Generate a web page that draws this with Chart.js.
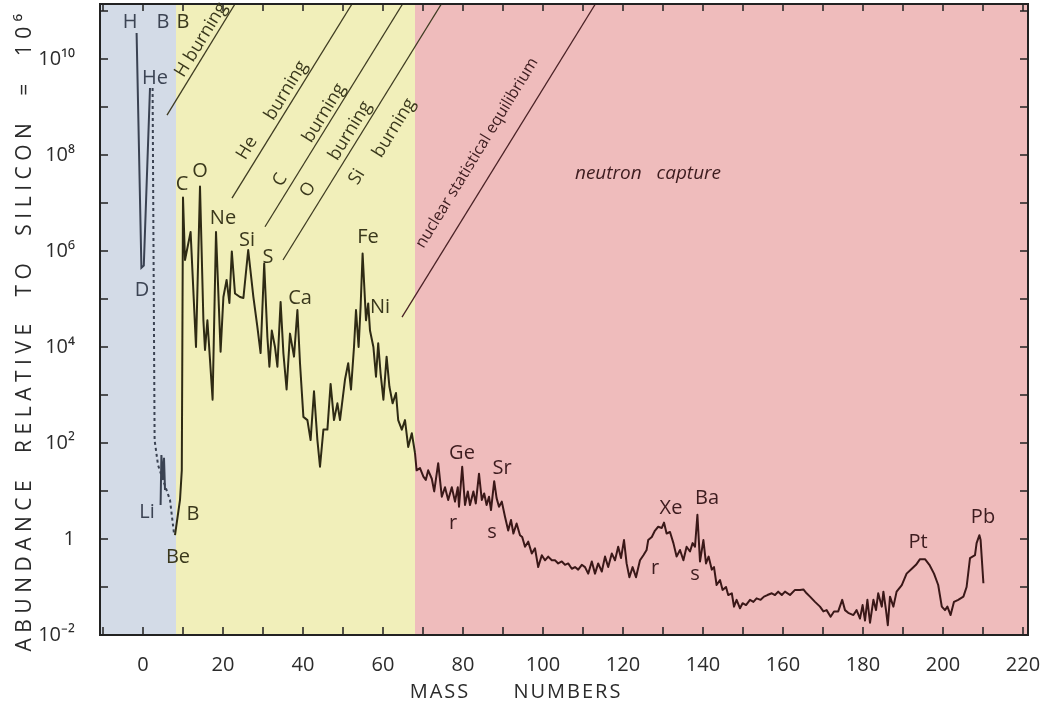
<!DOCTYPE html>
<html>
<head>
<meta charset="utf-8">
<script src="https://cdn.jsdelivr.net/npm/chart.js@4.4.0/dist/chart.umd.min.js"></script>
<style>
  html, body { margin: 0; padding: 0; background: #fff; }
  #wrap { width: 1055px; height: 711px; }
</style>
</head>
<body>
<div id="wrap"><canvas id="chart" width="1055" height="711"></canvas></div>
<script>
// Solar system abundances vs mass number (log scale, Si = 10^6)

const FONT = "'Open Sans', sans-serif";

// H -> D -> He (solid V in the blue band)
const hMass = [-1.6, -0.4, 0.2, 1.75];
const hAbund = [3.5e10, 4.5e5, 5.0e5, 2.5e9];

// dotted bridge from He down to Be
const gapMass = [2.4, 2.9, 3.75, 5, 6.75, 7.75];
const gapAbund = [2.5e9, 115, 35, 17, 6.5, 1.3];

// Li (short solid zigzag)
const liMass = [4.4, 4.6, 4.9, 5.25, 5.5];
const liAbund = [5.1, 56, 17, 49, 10.5];

// main curve, Be/B up to Pb
const mainMass = [
  8.0, 9.25, 9.7, 10, 10.5, 11.9, 13.25, 14.25, 15.1, 15.5, 16.1, 17.4, 18.25, 19.4, 20.1, 20.9,
  21.6, 22.2, 23, 24.25, 25.1, 26.3, 27.6, 28.6, 29.4, 30.3, 31.1, 31.6, 32.2, 33, 33.6, 34.4,
  35.1, 35.9, 36.75, 37.75, 38.6, 39.25, 40.1, 41.1, 41.9, 42.75, 43.6, 44.25, 45.1, 46.1, 46.9,
  47.75, 48.6, 49.25, 50.5, 51.3, 52, 52.75, 53.25, 53.9, 54.4, 54.9, 55.75, 56.3, 56.75, 57.6,
  58.25, 58.8, 59.4, 60.1, 60.9, 61.6, 62.4, 63.25, 63.8, 64.7, 65.5, 66.3, 67.2, 68, 68.4, 69.25,
  70.1, 70.7, 71.3, 72.2, 72.8, 73.8, 74.7, 75.5, 76.3, 77.2, 78, 78.7, 79, 79.8, 80.5, 81.2,
  81.75, 82.6, 83.2, 84, 84.7, 85.3, 85.9, 86.5, 87, 87.8, 88.4, 89, 89.7, 90.5, 91.3, 92, 92.6,
  93.4, 94.25, 94.8, 95.5, 96.3, 97.2, 98, 98.8, 99.7, 100.5, 101.3, 102.2, 103, 103.8, 104.7,
  105.5, 106.3, 107.2, 108, 108.8, 109.7, 110.5, 111.3, 112.2, 113, 113.8, 114.7, 115.5, 116.3,
  117.2, 118, 118.8, 119.5, 120.25, 120.9, 121.6, 122.4, 123.25, 124.25, 125.1, 125.9, 126.3,
  127.2, 128, 128.8, 129.7, 130.25, 130.9, 131.75, 132.6, 133.4, 134.25, 135.1, 135.9, 136.75,
  137.4, 138, 138.6, 139.25, 140.1, 140.75, 141.4, 142.2, 142.75, 143.4, 144.25, 144.9, 145.75,
  146.3, 147.2, 147.75, 148.4, 149.25, 149.9, 150.75, 151.75, 152.6, 153.4, 154.4, 155.25, 156.1,
  157.2, 158, 158.8, 159.7, 160.5, 161.75, 163, 164.25, 165.1, 165.9, 166.75, 168, 169.25, 170.1,
  170.9, 171.9, 172.75, 173.8, 174.8, 175.5, 176.3, 177.6, 178.4, 179.25, 179.9, 180.5, 181.1,
  181.75, 182.6, 183.25, 183.8, 184.7, 185.1, 185.75, 186.2, 186.75, 187.6, 188.4, 189.7, 190.9,
  192.2, 193.25, 194.25, 195.5, 196.6, 197.75, 198.8, 199.7, 200.5, 201.1, 201.9, 202.75, 203.8,
  205.1, 205.9, 206.75, 208, 208.4, 209.1, 209.4, 210.1
];
const mainAbund = [
  1.2, 6.5, 27, 1.3e7, 6.5e5, 2.5e6, 1.0e4, 2.2e7, 3.6e4, 8.7e3, 3.6e4, 8.0e2, 2.5e6, 8.0e3, 1.1e5, 2.5e5,
  8.3e4, 9.8e5, 1.3e5, 1.1e5, 1.05e5, 1.05e6, 1.1e5, 2.6e4, 7.5e3, 5.5e5, 1.6e4, 3.9e3, 2.2e4, 1.0e4, 3.9e3, 8.7e4,
  7.4e3, 1.3e3, 1.9e4, 6.3e3, 5.9e4, 4.6e3, 3.5e2, 3.0e2, 1.15e2, 1.2e3, 1.15e2, 32, 1.9e2, 1.9e2, 1.7e3,
  3.0e2, 6.7e2, 3.0e2, 2.1e3, 4.6e3, 1.3e3, 1.0e4, 5.9e4, 1.0e4, 6.9e4, 8.9e5, 3.6e4, 8.1e4, 2.2e4, 1.0e4,
  2.4e3, 1.2e4, 2.8e3, 8.0e2, 6.3e3, 1.5e3, 6.7e2, 1.1e3, 3.0e2, 1.9e2, 3.0e2, 83, 1.6e2, 62, 27, 30,
  20, 17, 27, 18, 9.8, 38, 7.6, 12, 6.5, 12, 6.0, 12, 4.7, 32, 5.1, 9.8,
  5.1, 9.8, 5.5, 23, 6.5, 8.9, 5.1, 7.6, 4.0, 16, 7.1, 4.7, 6.0, 2.9, 1.5, 2.5, 1.3,
  2.1, 1.2, 1.1, 0.69, 0.88, 0.50, 0.64, 0.26, 0.46, 0.36, 0.43, 0.36, 0.36, 0.31, 0.34,
  0.29, 0.31, 0.24, 0.26, 0.23, 0.29, 0.26, 0.19, 0.34, 0.19, 0.31, 0.21, 0.43, 0.26,
  0.50, 0.36, 0.69, 0.40, 0.95, 0.31, 0.16, 0.26, 0.16, 0.36, 0.46, 0.59, 0.95,
  1.1, 1.5, 1.8, 1.7, 2.2, 1.3, 1.4, 0.82, 0.43, 0.59, 0.36, 0.69, 0.55,
  0.82, 0.69, 3.2, 0.34, 0.95, 0.31, 0.43, 0.23, 0.26, 0.11, 0.14, 0.087, 0.10,
  0.068, 0.074, 0.039, 0.054, 0.036, 0.046, 0.042, 0.054, 0.049, 0.058, 0.054, 0.063, 0.068,
  0.074, 0.068, 0.080, 0.068, 0.080, 0.068, 0.087, 0.087, 0.089, 0.074, 0.063, 0.049, 0.039, 0.031,
  0.033, 0.024, 0.031, 0.031, 0.054, 0.033, 0.029, 0.026, 0.033, 0.022, 0.042, 0.020, 0.054,
  0.018, 0.054, 0.033, 0.074, 0.039, 0.080, 0.033, 0.016, 0.063, 0.039, 0.080, 0.11, 0.19,
  0.24, 0.29, 0.38, 0.38, 0.29, 0.19, 0.11, 0.039, 0.033, 0.039, 0.026, 0.049, 0.054,
  0.063, 0.10, 0.40, 0.46, 0.82, 1.2, 0.95, 0.12
];

// burning-stage boundary lines: [mass1, abund1, mass2, abund2]
const boundaryLines = [
  [6, 6.8e8, 23, 1.4e11],
  [22.25, 1.26e7, 52.25, 1.4e11],
  [30.5, 3.2e6, 64.9, 1.4e11],
  [35, 6.5e5, 74.6, 1.4e11],
  [64.75, 4.2e4, 113.1, 1.4e11]
];

// axis ticks
const xTicks = [-10, 0, 10, 20, 30, 40, 50, 60, 70, 80, 90, 100, 110, 120, 130, 140, 150, 160, 170, 180, 190, 200, 210, 220];
const yTicks = [1e-2, 1e-1, 1, 1e1, 1e2, 1e3, 1e4, 1e5, 1e6, 1e7, 1e8, 1e9, 1e10, 1e11];
const yTickLabels = ['10⁻²', '', '1', '', '10²', '', '10⁴', '', '10⁶', '', '10⁸', '', '10¹⁰', ''];

// process bands: blue (big bang), yellow (burning), pink (neutron capture)
const regionEdges = [8.25, 68];
const regionColors = ['#d3dbe7', '#f1efba', '#efbcbc'];
const regionInks = ['#3c4454', '#3a381c', '#3d1c1f'];

// element labels: [text, mass, abundance]
const elementLabels = [
  ['H', -3.25, 5.9e10], ['B', 5, 5.9e10], ['B', 10, 5.9e10], ['He', 3, 4.0e9], ['D', -0.25, 1.5e5],
  ['C', 9.75, 2.4e7], ['O', 14.25, 4.5e7], ['Ne', 20, 4.9e6], ['Si', 26, 1.7e6], ['S', 31.25, 7.5e5],
  ['Ca', 39.25, 1.05e5], ['Fe', 56.25, 1.9e6], ['Ni', 59.25, 6.8e4], ['Li', 1, 3.65], ['B', 12.5, 3.2],
  ['Be', 8.75, 0.42], ['Ge', 79.75, 62], ['Sr', 89.75, 30], ['r', 77.5, 2.1], ['s', 87.25, 1.4],
  ['Xe', 132, 4.4], ['Ba', 141, 7.1], ['r', 128, 0.25], ['s', 138, 0.18], ['Pt', 193.75, 0.87],
  ['Pb', 210, 2.9]
];

// rotated process labels: [text, mass, abundance]
const processLabels = [
  ['H burning', 14.5, 2.5e10], ['He', 26, 1.4e8], ['burning', 35.75, 2.2e9],
  ['C', 34.25, 3.0e7], ['burning', 45.25, 7.5e8], ['O', 41.25, 1.9e7], ['burning', 51.75, 3.2e8],
  ['Si', 53.5, 3.5e7], ['burning', 62.75, 3.65e8],
  ['nuclear statistical equilibrium', 83.5, 1.1e8]
];
const captureLabel = ['neutron   capture', 126.25, 4.2e7];

function inkFor(m) {
  return m < regionEdges[0] ? regionInks[0] : m < regionEdges[1] ? regionInks[1] : regionInks[2];
}

function toPoints(xs, ys) {
  return xs.map((m, i) => ({ x: m, y: ys[i] }));
}

const bandsPlugin = {
  id: 'bands',
  beforeDraw(chart) {
    const { ctx, chartArea: a, scales: { x } } = chart;
    const edges = [a.left, x.getPixelForValue(regionEdges[0]), x.getPixelForValue(regionEdges[1]), a.right];
    ctx.save();
    regionColors.forEach((c, i) => {
      ctx.fillStyle = c;
      ctx.fillRect(edges[i], a.top, edges[i + 1] - edges[i], a.bottom - a.top);
    });
    ctx.restore();
  }
};

const framePlugin = {
  id: 'frame',
  afterDatasetsDraw(chart) {
    const { ctx, chartArea: a, scales: { x, y } } = chart;
    ctx.save();
    ctx.strokeStyle = '#222';
    ctx.lineWidth = 1.5;
    ctx.beginPath();
    xTicks.forEach(v => {
      const px = x.getPixelForValue(v);
      ctx.moveTo(px, a.bottom); ctx.lineTo(px, a.bottom - 8);
      ctx.moveTo(px, a.top); ctx.lineTo(px, a.top + 7);
    });
    yTicks.forEach(v => {
      const py = y.getPixelForValue(v);
      ctx.moveTo(a.left, py); ctx.lineTo(a.left + 8, py);
      ctx.moveTo(a.right, py); ctx.lineTo(a.right - 8, py);
    });
    ctx.stroke();
    ctx.lineWidth = 2;
    ctx.strokeRect(a.left, a.top, a.right - a.left, a.bottom - a.top);

    // labels on the curve
    ctx.textAlign = 'center';
    ctx.textBaseline = 'middle';
    ctx.font = `20px ${FONT}`;
    elementLabels.forEach(([t, m, v]) => {
      ctx.fillStyle = inkFor(m);
      ctx.fillText(t, x.getPixelForValue(m), y.getPixelForValue(v));
    });

    const [m1, v1, m2, v2] = boundaryLines[0];
    const ang = Math.atan2(y.getPixelForValue(v2) - y.getPixelForValue(v1),
                           x.getPixelForValue(m2) - x.getPixelForValue(m1));
    processLabels.forEach(([t, m, v]) => {
      ctx.save();
      ctx.translate(x.getPixelForValue(m), y.getPixelForValue(v));
      ctx.rotate(ang);
      ctx.font = t.length > 20 ? `16px ${FONT}` : `18px ${FONT}`;
      ctx.fillStyle = inkFor(m);
      ctx.fillText(t, 0, 0);
      ctx.restore();
    });

    ctx.font = `italic 19px ${FONT}`;
    ctx.fillStyle = regionInks[2];
    ctx.fillText(captureLabel[0], x.getPixelForValue(captureLabel[1]), y.getPixelForValue(captureLabel[2]));
    ctx.restore();
  },
  afterDraw(chart) {
    const { ctx } = chart;
    ctx.save();
    ctx.fillStyle = '#2b2b2b';
    ctx.textAlign = 'center';
    ctx.textBaseline = 'middle';
    ctx.font = `21px ${FONT}`;
    ctx.letterSpacing = '5.5px';
    ctx.translate(25, 330);
    ctx.rotate(-Math.PI / 2);
    ctx.fillText('ABUNDANCE  RELATIVE  TO  SILICON  =  10⁶', 0, 0);
    ctx.restore();

    ctx.save();
    ctx.fillStyle = '#2b2b2b';
    ctx.textAlign = 'center';
    ctx.textBaseline = 'middle';
    ctx.font = `20px ${FONT}`;
    ctx.letterSpacing = '2px';
    ctx.fillText('MASS      NUMBERS', 516, 692);
    ctx.restore();
  }
};

const ink = '#2e2a14';
const pinkInk = '#3a1818';
const blueInk = '#3a4252';

new Chart(document.getElementById('chart'), {
  type: 'line',
  data: {
    datasets: [
      {
        data: toPoints(mainMass, mainAbund),
        borderColor: ink,
        borderWidth: 2,
        borderJoinStyle: 'round',
        segment: { borderColor: c => c.p0.parsed.x >= regionEdges[1] ? pinkInk : ink }
      },
      { data: toPoints(hMass, hAbund), borderColor: blueInk, borderWidth: 2 },
      { data: toPoints(gapMass, gapAbund), borderColor: blueInk, borderWidth: 2, borderDash: [3, 3] },
      { data: toPoints(liMass, liAbund), borderColor: blueInk, borderWidth: 2 },
      ...boundaryLines.map(([m1, v1, m2, v2]) => ({
        data: [{ x: m1, y: v1 }, { x: m2, y: v2 }],
        borderColor: m1 >= 60 ? '#4a2226' : '#3f3c22',
        borderWidth: 1.3
      }))
    ]
  },
  options: {
    responsive: false,
    devicePixelRatio: 1,
    animation: false,
    layout: { padding: { left: 0, right: 27, top: 4, bottom: 0 } },
    elements: { point: { radius: 0 }, line: { tension: 0 } },
    plugins: { legend: { display: false }, tooltip: { enabled: false } },
    scales: {
      x: {
        type: 'linear',
        min: -10.75,
        max: 221.25,
        grid: { display: false },
        border: { display: false },
        afterBuildTicks: s => { s.ticks = xTicks.map(v => ({ value: v })); },
        afterFit: s => { s.height = 76; s.paddingLeft = 0; s.paddingRight = 0; },
        ticks: {
          autoSkip: false,
          maxRotation: 0,
          padding: 10,
          color: '#2b2b2b',
          font: { family: FONT, size: 20 },
          callback: v => (v >= 0 && v % 20 === 0) ? String(v) : ''
        }
      },
      y: {
        type: 'logarithmic',
        min: 1e-2,
        max: 1.4e11,
        grid: { display: false },
        border: { display: false },
        afterBuildTicks: s => { s.ticks = yTicks.map(v => ({ value: v })); },
        afterFit: s => { s.width = 100; s.paddingTop = 0; s.paddingBottom = 0; },
        ticks: {
          autoSkip: false,
          padding: 17,
          color: '#2b2b2b',
          font: { family: FONT, size: 20 },
          callback: (v, i) => yTickLabels[i]
        }
      }
    }
  },
  plugins: [bandsPlugin, framePlugin]
});
</script>
</body>
</html>
